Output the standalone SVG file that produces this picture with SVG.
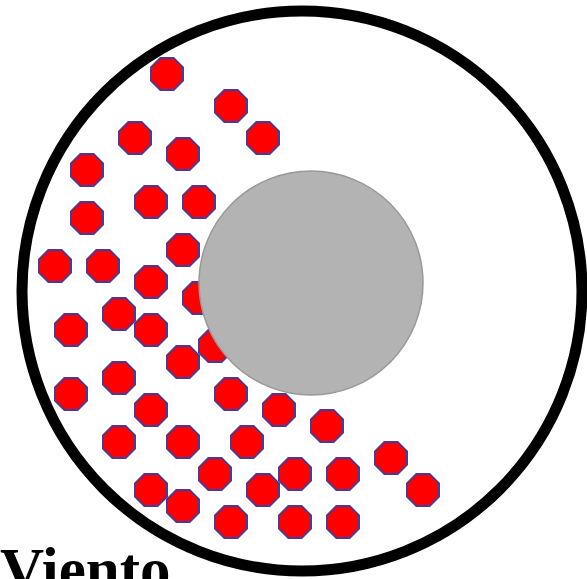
<svg xmlns="http://www.w3.org/2000/svg" xmlns:xlink="http://www.w3.org/1999/xlink" width="587" height="579" viewBox="0 0 587 579">
<style>
.oct{fill:#ff0000;stroke:#4b3a94;stroke-width:2}
.lbl{font-family:"Liberation Serif","Times New Roman",serif;font-weight:bold;font-size:61px;fill:#000}
</style>
<defs>
<polygon id="o" points="16,-6.6 6.6,-16 -6.6,-16 -16,-6.6 -16,6.6 -6.6,16 6.6,16 16,6.6"/>
</defs>
<rect width="587" height="579" fill="#fff"/>
<g id="outer">
<circle cx="302" cy="291" r="280" fill="none" stroke="#000" stroke-width="11"/>
</g>
<g id="particles" class="oct">
<use xlink:href="#o" x="167" y="74"/>
<use xlink:href="#o" x="231" y="106"/>
<use xlink:href="#o" x="135" y="138"/>
<use xlink:href="#o" x="263" y="138"/>
<use xlink:href="#o" x="183" y="154"/>
<use xlink:href="#o" x="87" y="170"/>
<use xlink:href="#o" x="151" y="202"/>
<use xlink:href="#o" x="199" y="202"/>
<use xlink:href="#o" x="87" y="218"/>
<use xlink:href="#o" x="183" y="250"/>
<use xlink:href="#o" x="55" y="266"/>
<use xlink:href="#o" x="103" y="266"/>
<use xlink:href="#o" x="151" y="282"/>
<use xlink:href="#o" x="199" y="298"/>
<use xlink:href="#o" x="119" y="314"/>
<use xlink:href="#o" x="71" y="330"/>
<use xlink:href="#o" x="151" y="330"/>
<use xlink:href="#o" x="215" y="346"/>
<use xlink:href="#o" x="183" y="362"/>
<use xlink:href="#o" x="311" y="378"/>
<use xlink:href="#o" x="119" y="378"/>
<use xlink:href="#o" x="71" y="394"/>
<use xlink:href="#o" x="231" y="394"/>
<use xlink:href="#o" x="151" y="410"/>
<use xlink:href="#o" x="279" y="410"/>
<use xlink:href="#o" x="327" y="426"/>
<use xlink:href="#o" x="119" y="442"/>
<use xlink:href="#o" x="183" y="442"/>
<use xlink:href="#o" x="247" y="442"/>
<use xlink:href="#o" x="391" y="458"/>
<use xlink:href="#o" x="215" y="474"/>
<use xlink:href="#o" x="295" y="474"/>
<use xlink:href="#o" x="343" y="474"/>
<use xlink:href="#o" x="151" y="490"/>
<use xlink:href="#o" x="263" y="490"/>
<use xlink:href="#o" x="423" y="490"/>
<use xlink:href="#o" x="183" y="506"/>
<use xlink:href="#o" x="231" y="522"/>
<use xlink:href="#o" x="295" y="522"/>
<use xlink:href="#o" x="343" y="522"/>
</g>
<g id="core">
<circle cx="311" cy="283" r="112" fill="#b3b3b3" stroke="#999" stroke-width="1.5"/>
</g>
<g id="connectors"/>
<g id="label">
<text class="lbl" x="0" y="590">Viento</text>
</g>
</svg>
